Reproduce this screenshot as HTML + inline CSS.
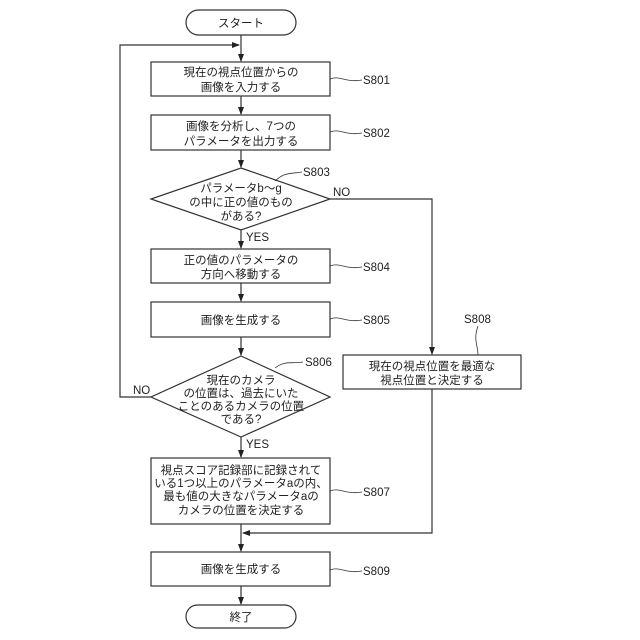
<!DOCTYPE html>
<html><head><meta charset="utf-8"><style>
html,body{margin:0;padding:0;background:#fff;}
svg{display:block;}
text{font-family:"Liberation Sans","Noto Sans CJK JP",sans-serif;font-size:11.5px;fill:#222;}
.l{font-size:11px;}
</style></head><body>
<svg width="640" height="640" viewBox="0 0 640 640" xmlns="http://www.w3.org/2000/svg">
<defs><marker id="a" markerWidth="8" markerHeight="8" refX="7" refY="4" orient="auto" markerUnits="userSpaceOnUse"><path d="M0,1 L8,4 L0,7 Z" fill="#222"/></marker></defs>
<g fill="none" stroke="#333" stroke-width="1.2">
<rect x="186" y="10" width="110" height="25" rx="12.5"/>
<rect x="151" y="62" width="179" height="34"/>
<rect x="151" y="115" width="179" height="35"/>
<polygon points="241,168 330,199 241,230 151,199"/>
<rect x="151" y="249" width="179" height="34"/>
<rect x="151" y="302" width="179" height="35"/>
<polygon points="241,356 330,397 241,437 151,397"/>
<rect x="151" y="458" width="179" height="66"/>
<rect x="343" y="355" width="178" height="34"/>
<rect x="151" y="552" width="179" height="34"/>
<rect x="186" y="605" width="110" height="23" rx="11.5"/>
<line x1="241" y1="35" x2="241" y2="61" marker-end="url(#a)"/>
<polyline points="151,397 120,397 120,45 239,45" marker-end="url(#a)"/>
<line x1="241" y1="96" x2="241" y2="114" marker-end="url(#a)"/>
<line x1="241" y1="150" x2="241" y2="167" marker-end="url(#a)"/>
<line x1="241" y1="230" x2="241" y2="248" marker-end="url(#a)"/>
<line x1="241" y1="283" x2="241" y2="301" marker-end="url(#a)"/>
<line x1="241" y1="337" x2="241" y2="355" marker-end="url(#a)"/>
<line x1="241" y1="437" x2="241" y2="457" marker-end="url(#a)"/>
<polyline points="330,199 432,199 432,354" marker-end="url(#a)"/>
<polyline points="432,389 432,533 243,533" marker-end="url(#a)"/>
<line x1="241" y1="524" x2="241" y2="551" marker-end="url(#a)"/>
<line x1="241" y1="586" x2="241" y2="604" marker-end="url(#a)"/>
<g stroke-width="0.8">
<path d="M330,79 C340,75 345,83 362,80"/>
<path d="M330,132 C340,128 345,136 362,133"/>
<path d="M275,181 C285,172 290,174 302,172"/>
<path d="M330,266 C340,262 345,270 362,267"/>
<path d="M330,319 C340,315 345,323 362,320"/>
<path d="M275,368 C285,360 292,364 303,362"/>
<path d="M330,491 C340,487 345,495 362,492"/>
<path d="M330,570 C340,566 345,574 362,571"/>
<path d="M478,355 C478,345 473,340 478,326"/>
</g>
</g>
<g text-anchor="middle">
<text x="241" y="27">スタート</text>
<text x="241" y="76">現在の視点位置からの</text>
<text x="241" y="91">画像を入力する</text>
<text x="241" y="130">画像を分析し、7つの</text>
<text x="241" y="145">パラメータを出力する</text>
<text x="241" y="192">パラメータb～g</text>
<text x="241" y="206">の中に正の値のもの</text>
<text x="241" y="220">がある?</text>
<text x="241" y="264">正の値のパラメータの</text>
<text x="241" y="278">方向へ移動する</text>
<text x="241" y="324">画像を生成する</text>
<text x="241" y="384">現在のカメラ</text>
<text x="241" y="397">の位置は、過去にいた</text>
<text x="241" y="410">ことのあるカメラの位置</text>
<text x="241" y="423">である?</text>
<text x="241" y="474">視点スコア記録部に記録されて</text>
<text x="241" y="487">いる1つ以上のパラメータaの内、</text>
<text x="241" y="500">最も値の大きなパラメータaの</text>
<text x="241" y="514">カメラの位置を決定する</text>
<text x="432" y="370">現在の視点位置を最適な</text>
<text x="432" y="384">視点位置と決定する</text>
<text x="241" y="573">画像を生成する</text>
<text x="241" y="621">終了</text>
</g>
<g class="l">
<text x="363" y="84">S801</text>
<text x="363" y="137">S802</text>
<text x="303" y="176">S803</text>
<text x="363" y="271">S804</text>
<text x="363" y="324">S805</text>
<text x="305" y="366">S806</text>
<text x="363" y="496">S807</text>
<text x="464" y="323">S808</text>
<text x="363" y="575">S809</text>
<text x="333" y="196">NO</text>
<text x="246" y="241">YES</text>
<text x="133" y="394">NO</text>
<text x="246" y="448">YES</text>
</g>
</svg>
</body></html>
